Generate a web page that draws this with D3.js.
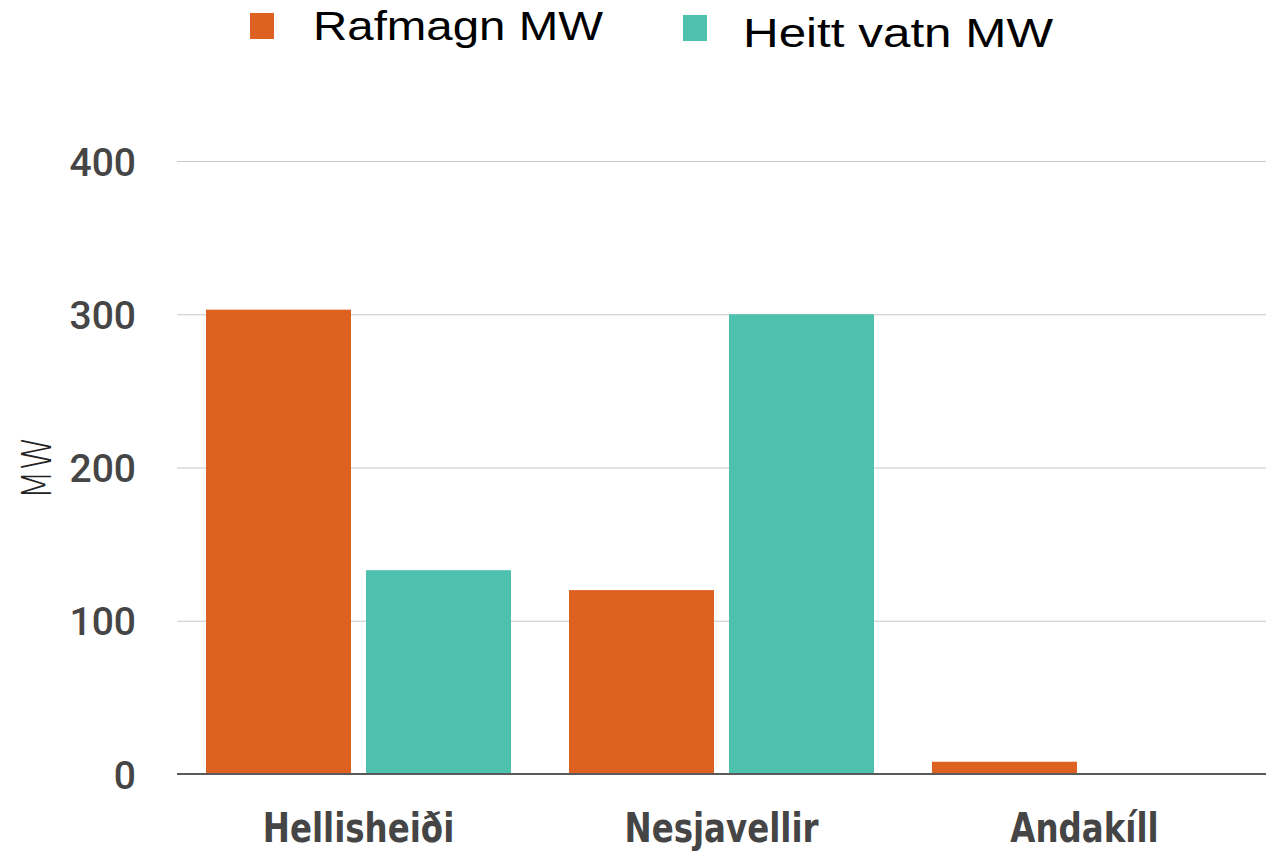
<!DOCTYPE html>
<html>
<head>
<meta charset="utf-8">
<script src="https://cdn.jsdelivr.net/npm/d3@7"></script>
<style>
  html, body { margin: 0; padding: 0; background: #fff; }
  svg { display: block; }
</style>
</head>
<body>
<div id="chart"></div>
<script>
// Grouped bar chart: installed power (MW) per plant, electricity vs hot water.
var stations = ["Hellisheiði", "Nesjavellir", "Andakíll"];
var seriesNames = ["Rafmagn MW", "Heitt vatn MW"];
var rafmagn = [303, 120, 8];
var heittVatn = [133, 300, 0];
var yTicks = [0, 100, 200, 300, 400];
var seriesColours = ["#dd6120", "#4dc0ae"];

(function () {
  var width = 1266, height = 851;
  var plot = { left: 177, right: 1266, top: 161, bottom: 774 };

  var svg = d3.select("#chart").append("svg")
    .attr("width", width).attr("height", height);

  var rows = stations.map(function (s, i) {
    return { station: s, values: [rafmagn[i], heittVatn[i]] };
  });

  var x0 = d3.scaleBand().domain(stations).range([plot.left, plot.right]).padding(0);
  var x1 = d3.scaleBand().domain(seriesNames)
    .range([29, x0.bandwidth() - 29]).paddingInner(15 / 160);
  var y = d3.scaleLinear().domain([0, 400]).range([plot.bottom, plot.top]);
  var colour = d3.scaleOrdinal().domain(seriesNames).range(seriesColours);

  // squeeze a text horizontally about its anchor point
  function squeeze(sel, k) {
    sel.each(function () {
      var t = d3.select(this);
      var xx = +t.attr("x") || 0;
      t.attr("transform", "translate(" + xx + ",0) scale(" + k + ",1) translate(" + (-xx) + ",0)");
    });
  }

  // gridlines + tick labels
  var yAxis = svg.append("g")
    .attr("transform", "translate(" + plot.left + ",0)")
    .call(d3.axisLeft(y).tickValues(yTicks).tickSize(-(plot.right - plot.left)).tickPadding(41));
  yAxis.select(".domain").remove();
  yAxis.selectAll(".tick line").attr("stroke", "#c8c8c8").attr("stroke-width", 1.2);
  yAxis.selectAll(".tick text")
    .attr("fill", "#454545")
    .style("font-family", "Roboto, 'DejaVu Sans', sans-serif")
    .style("font-weight", 500)
    .style("font-size", "39px")
    .attr("dy", "0.36em");

  // bars
  var groups = svg.append("g").selectAll("g")
    .data(rows).join("g")
    .attr("transform", function (d) { return "translate(" + x0(d.station) + ",0)"; });

  groups.selectAll("rect")
    .data(function (d) {
      return seriesNames.map(function (n, i) { return { name: n, value: d.values[i] }; });
    })
    .join("rect")
    .attr("x", function (d) { return x1(d.name); })
    .attr("width", x1.bandwidth())
    .attr("y", function (d) { return y(d.value); })
    .attr("height", function (d) { return y(0) - y(d.value); })
    .attr("fill", function (d) { return colour(d.name); });

  // baseline
  svg.append("line")
    .attr("x1", plot.left).attr("x2", plot.right)
    .attr("y1", y(0)).attr("y2", y(0))
    .attr("stroke", "#5a5a5a").attr("stroke-width", 2);

  // category labels
  var xAxis = svg.append("g")
    .attr("transform", "translate(0," + plot.bottom + ")")
    .call(d3.axisBottom(x0).tickSize(0).tickPadding(39));
  xAxis.select(".domain").remove();
  xAxis.selectAll(".tick text")
    .attr("fill", "#454545")
    .style("font-family", "'Liberation Sans Narrow', 'DejaVu Sans Condensed', sans-serif")
    .style("font-weight", 700)
    .style("font-size", "41px")
    .call(squeeze, 0.88);

  // axis title
  svg.append("text")
    .attr("transform", "translate(51,468) rotate(-90) scale(0.85,1)")
    .attr("text-anchor", "middle")
    .attr("fill", "#222")
    .style("font-family", "'DejaVu Sans', sans-serif")
    .style("font-weight", 200)
    .style("font-size", "40px")
    .text("MW");

  // legend
  var legendPos = [[250, 13], [683, 15]];
  var legendTextX = [63, 60];
  var legendTextY = [27, 32];
  var legendTextW = [290, 310];
  var legend = svg.append("g").selectAll("g")
    .data(seriesNames).join("g")
    .attr("transform", function (d, i) { return "translate(" + legendPos[i][0] + "," + legendPos[i][1] + ")"; });
  legend.append("rect")
    .attr("width", 24).attr("height", 26)
    .attr("fill", function (d) { return colour(d); });
  legend.append("text")
    .attr("x", function (d, i) { return legendTextX[i]; })
    .attr("y", function (d, i) { return legendTextY[i]; })
    .attr("textLength", function (d, i) { return legendTextW[i]; })
    .attr("lengthAdjust", "spacingAndGlyphs")
    .attr("fill", "#000")
    .style("font-family", "'Liberation Sans', Arial, sans-serif")
    .style("font-size", "41px")
    .text(function (d) { return d; });
})();
</script>
</body>
</html>
